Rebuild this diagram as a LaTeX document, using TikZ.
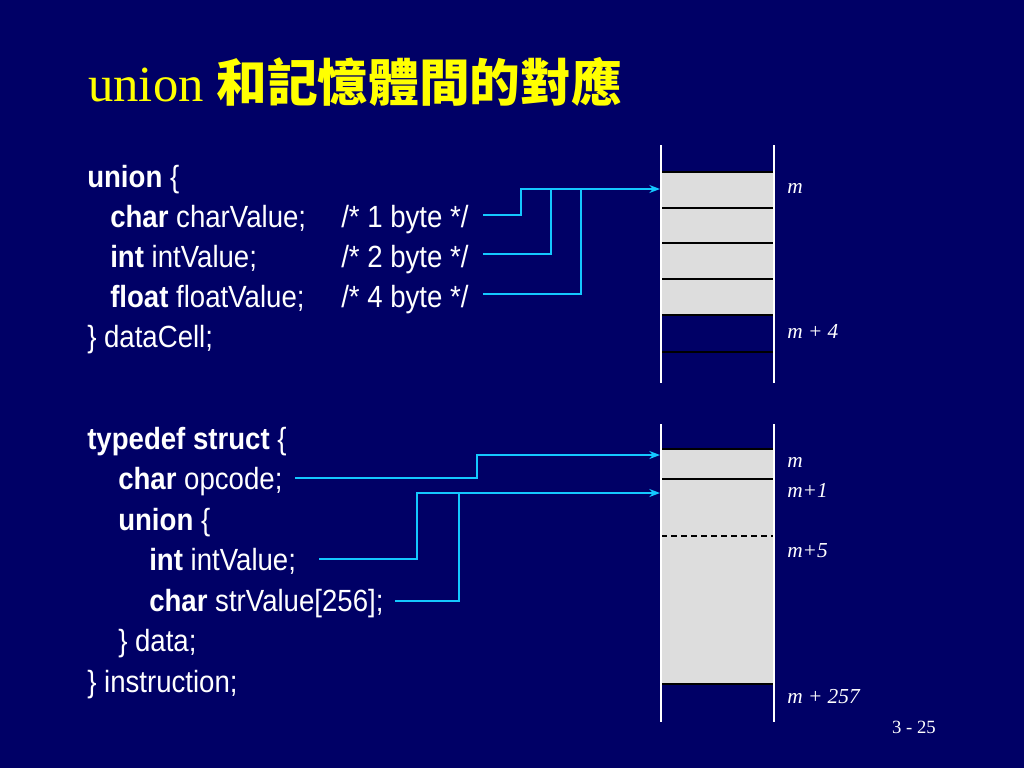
\documentclass[tikz,border=0pt]{standalone}
\usepackage{fontspec}
\setmainfont{Liberation Serif}
\newfontfamily\codefont[FakeStretch=0.9]{Liberation Sans}
\newfontfamily\cjk{Noto Sans CJK TC}
\usetikzlibrary{arrows.meta}
\definecolor{bgnavy}{RGB}{0,0,102}
\definecolor{titleyellow}{RGB}{255,255,0}
\definecolor{linkcyan}{RGB}{20,200,255}
\definecolor{cellgray}{RGB}{221,221,221}
\begin{document}
\begin{tikzpicture}[x=0.75pt,y=-0.75pt,
  code/.style={anchor=base west, inner sep=0pt, text=white, font=\codefont\fontsize{23}{27}\selectfont},
  addr/.style={anchor=base west, inner sep=0pt, text=white, font=\fontsize{16}{19}\selectfont\itshape},
  link/.style={draw=linkcyan, line width=1.1pt},
  arrowed/.style={-{Stealth[length=8pt,width=6pt]}},
  wall/.style={draw=white, line width=1.1pt},
  rowline/.style={draw=black, line width=1.3pt},
  gapline/.style={draw=black, line width=1pt, dash pattern=on 4.5pt off 3pt}
]
\fill[bgnavy] (0,0) rectangle (1024,768);
\useasboundingbox (0,0) rectangle (1024,768);

% title
\node[anchor=base west, inner sep=0pt, text=titleyellow, font=\fontsize{38}{44}\selectfont] (title) at (88,101)
  {union {\cjk\bfseries 和記憶體間的對應}};

% ---- block 1 code ----
\node[code] (u1) at (87,187) {\textbf{union} \{};
\node[code] (l1) at (110,227) {\textbf{char} charValue;};
\node[code] (l2) at (110,267) {\textbf{int} intValue;};
\node[code] (l3) at (110,307) {\textbf{float} floatValue;};
\node[code] (l4) at (87,347) {\} dataCell;};
\node[code] (c1) at (341,227) {/* 1 byte */};
\node[code] (c2) at (341,267) {/* 2 byte */};
\node[code] (c3) at (341,307) {/* 4 byte */};

% ---- block 2 code ----
\node[code] (t1) at (87,449) {\textbf{typedef struct} \{};
\node[code] (t2) at (118,489.5) {\textbf{char} opcode;};
\node[code] (t3) at (118,530) {\textbf{union} \{};
\node[code] (t4) at (149,570.5) {\textbf{int} intValue;};
\node[code] (t5) at (149,611) {\textbf{char} strValue[256];};
\node[code] (t6) at (118,651.5) {\} data;};
\node[code] (t7) at (87,692) {\} instruction;};

% ---- memory 1 ----
\fill[cellgray] (661,172) rectangle (774,315);
\foreach \yy in {172,208,243,279,315,352} \draw[rowline] (661,\yy) -- (774,\yy);
\draw[wall] (661,145) -- (661,383);
\draw[wall] (774,145) -- (774,383);
\node[addr] (a1) at (787,193) {m};
\node[addr] (a2) at (787,338) {m + 4};

% ---- memory 2 ----
\fill[cellgray] (661,449) rectangle (774,684);
\draw[rowline] (661,449) -- (774,449);
\draw[rowline] (661,479) -- (774,479);
\draw[gapline] (661,536) -- (774,536);
\draw[rowline] (661,684) -- (774,684);
\draw[wall] (661,424) -- (661,722);
\draw[wall] (774,424) -- (774,722);
\node[addr] (b1) at (787,467) {m};
\node[addr] (b2) at (787,497) {m+1};
\node[addr] (b3) at (787,557) {m+5};
\node[addr] (b4) at (787,703) {m + 257};

% page number
\node[anchor=base east, inner sep=0pt, text=white, font=\fontsize{14}{17}\selectfont] (pg) at (936,733) {3 - 25};

% ---- connectors 1 ----
\coordinate (s1) at (483,215);
\coordinate (s2) at (483,254);
\coordinate (s3) at (483,294);
\coordinate (m1) at (660,189);
\draw[link, arrowed] (s1) -- (521,215) -- (521,189) -- (m1);
\draw[link] (s2) -- (551,254) -- (551,189);
\draw[link] (s3) -- (581,294) -- (581,189);

% ---- connectors 2 ----
\coordinate (r1) at (295,478);
\coordinate (r2) at (319,559);
\coordinate (r3) at (395,601);
\coordinate (n1) at (660,455);
\coordinate (n2) at (660,493);
\draw[link, arrowed] (r1) -- (477,478) -- (477,455) -- (n1);
\draw[link, arrowed] (r2) -- (417,559) -- (417,493) -- (n2);
\draw[link] (r3) -- (459,601) -- (459,493);
\end{tikzpicture}
\end{document}
